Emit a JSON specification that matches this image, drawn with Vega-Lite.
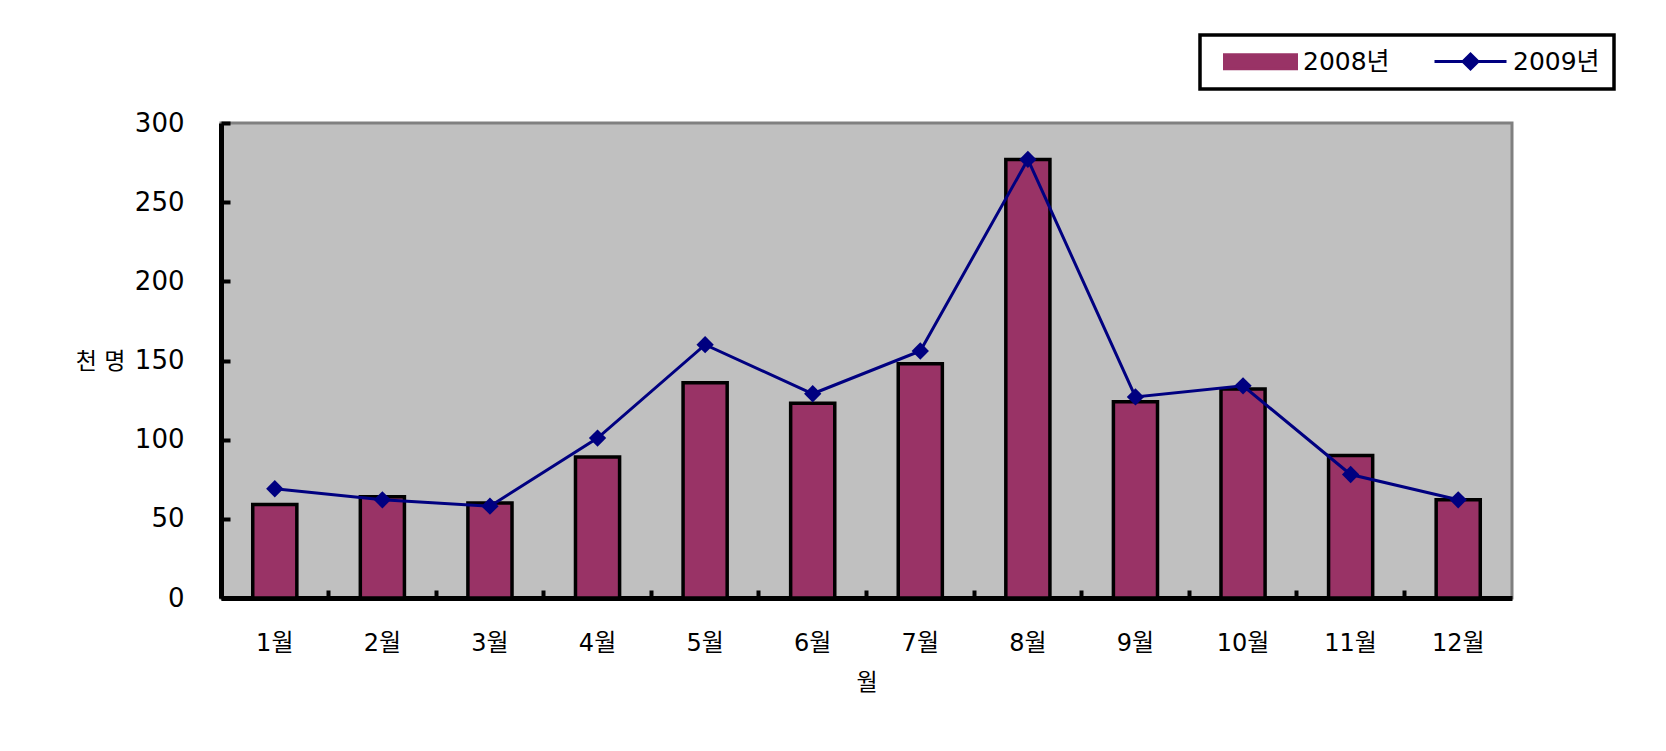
{
  "$schema": "https://vega.github.io/schema/vega-lite/v6.json",
  "width": 1291,
  "height": 475,
  "autosize": {"type": "none"},
  "padding": {"left": 221, "top": 123, "right": 154, "bottom": 153},
  "background": "white",
  "config": {
    "view": {"fill": "#C0C0C0", "stroke": "#808080", "strokeWidth": 3},
    "font": "DejaVu Sans, Noto Sans CJK KR",
    "legend": {
      "strokeWidth": 3.5,
      "title": null,
      "orient": "none",
      "legendX": 979,
      "legendY": -88,
      "direction": "horizontal",
      "strokeColor": "black",
      "fillColor": "white",
      "padding": 14,
      "labelFontSize": 25,
      "labelColor": "black",
      "symbolSize": 400,
      "symbolOffset": 8,
      "symbolStrokeWidth": 3,
      "symbolOpacity": 1,
      "labelOffset": 56,
      "columnPadding": 34
    }
  },
  "data": {
    "values": [
      {"month": "1월", "series": "2008년", "value": 59},
      {"month": "2월", "series": "2008년", "value": 64},
      {"month": "3월", "series": "2008년", "value": 60},
      {"month": "4월", "series": "2008년", "value": 89},
      {"month": "5월", "series": "2008년", "value": 136},
      {"month": "6월", "series": "2008년", "value": 123},
      {"month": "7월", "series": "2008년", "value": 148},
      {"month": "8월", "series": "2008년", "value": 277},
      {"month": "9월", "series": "2008년", "value": 124},
      {"month": "10월", "series": "2008년", "value": 132},
      {"month": "11월", "series": "2008년", "value": 90},
      {"month": "12월", "series": "2008년", "value": 62},
      {"month": "1월", "series": "2009년", "value": 69},
      {"month": "2월", "series": "2009년", "value": 62},
      {"month": "3월", "series": "2009년", "value": 58},
      {"month": "4월", "series": "2009년", "value": 101},
      {"month": "5월", "series": "2009년", "value": 160},
      {"month": "6월", "series": "2009년", "value": 129},
      {"month": "7월", "series": "2009년", "value": 156},
      {"month": "8월", "series": "2009년", "value": 277},
      {"month": "9월", "series": "2009년", "value": 127},
      {"month": "10월", "series": "2009년", "value": 134},
      {"month": "11월", "series": "2009년", "value": 78},
      {"month": "12월", "series": "2009년", "value": 62}
    ]
  },
  "encoding": {
    "x": {
      "field": "month",
      "type": "ordinal",
      "sort": ["1월","2월","3월","4월","5월","6월","7월","8월","9월","10월","11월","12월"],
      "scale": {"paddingInner": 0, "paddingOuter": 0},
      "axis": {
        "title": "월",
        "titleFontSize": 23,
        "titleFontWeight": "normal",
        "titleColor": "black",
        "titleY": 84,
        "titleBaseline": "middle",
        "labelAngle": 0,
        "labelFontSize": 24,
        "labelColor": "black",
        "labelPadding": 41,
        "domainColor": "black",
        "domainWidth": 5,
        "ticks": true,
        "tickColor": "black",
        "tickWidth": 4,
        "tickSize": -8,
        "bandPosition": 0,
        "grid": false
      }
    },
    "y": {
      "field": "value",
      "type": "quantitative",
      "scale": {"domain": [0, 300], "nice": false},
      "axis": {
        "title": "천 명",
        "titleAngle": 0,
        "titleAlign": "right",
        "titleBaseline": "middle",
        "titleX": -96,
        "titleY": 238,
        "titleFontSize": 23,
        "titleFontWeight": "normal",
        "titleColor": "black",
        "values": [0, 50, 100, 150, 200, 250, 300],
        "grid": false,
        "domainColor": "black",
        "domainWidth": 5,
        "tickColor": "black",
        "tickWidth": 4,
        "tickSize": -9,
        "labelFontSize": 26,
        "labelColor": "black",
        "labelPadding": 46
      }
    }
  },
  "layer": [
    {
      "transform": [{"filter": "datum.series === '2008년'"}],
      "mark": {"type": "bar", "width": {"band": 0.41}, "stroke": "black", "strokeWidth": 3.5},
      "encoding": {
        "color": {
          "field": "series",
          "type": "nominal",
          "scale": {"domain": ["2008년", "2009년"], "range": ["#993366", "#000080"]}
        }
      }
    },
    {
      "transform": [{"filter": "datum.series === '2009년'"}],
      "mark": {"type": "line", "strokeWidth": 3, "point": {"shape": "diamond", "size": 300, "filled": true, "opacity": 1}},
      "encoding": {
        "color": {"field": "series", "type": "nominal"}
      }
    },
    {
      "transform": [{"filter": "datum.value < 0"}],
      "mark": {"type": "point", "filled": true, "size": 400},
      "encoding": {
        "color": {"field": "series", "type": "nominal"},
        "shape": {
          "field": "series",
          "type": "nominal",
          "scale": {"domain": ["2008년", "2009년"], "range": ["M-1,-0.7H6.2V0.7H-1Z", "M-1,0H6.2M1.85,0L2.6,-0.75L3.35,0L2.6,0.75Z"]}
        },
        "stroke": {
          "field": "series",
          "type": "nominal",
          "scale": {"domain": ["2008년", "2009년"], "range": ["black", "#000080"]}
        }
      }
    }
  ]
}
